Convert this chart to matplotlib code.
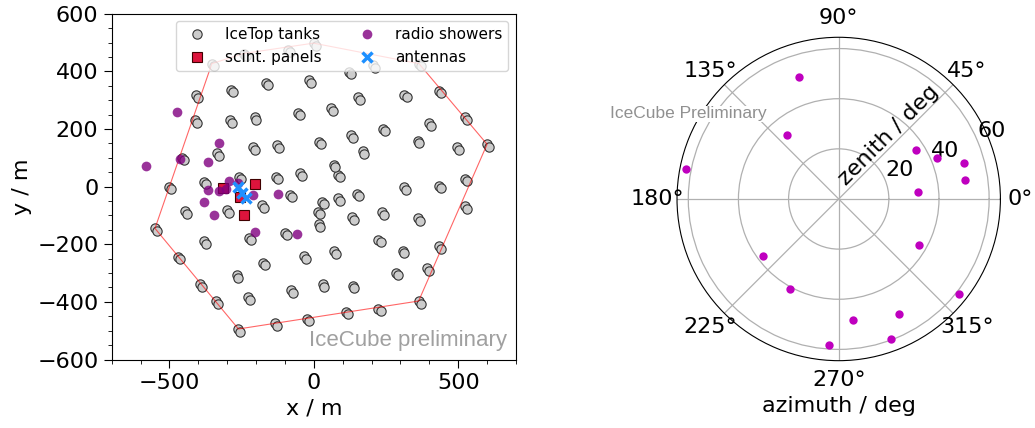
import numpy as np
import matplotlib
matplotlib.use("Agg")
import matplotlib.pyplot as plt
from matplotlib.ticker import MultipleLocator

# -----------------------------
# IceTop tanks (two tanks per station), x / y in m
# -----------------------------
tank_a_x = [-353, -243, -91, -1, 121, 205, 364,
            -407, -287, -167, -18, 153, 314, 435,
            -413, -290, -205, -56, 60, 240, 398, 522,
            -458, -334, -210, -127, 17, 128, 171, 360, 497, 600,
            -503, -381, -259, -131, -47, 69, 84, 314, 433, 525,
            -446, -301, -178, -81, 30, 83, 150, 15, 132, 235, 360, 522,
            -550, -382, -225, -101, 18, 224, 308, 435, -35, 71, -176, -471,
            -266, -394, -227, -338, -79, 32, 135, 283, 393, 363,
            -261, -133, -24, 112, 224]
tank_a_y = [427, 462, 474, 498, 398, 421, 427,
            317, 336, 360, 370, 310, 318, 333,
            230, 230, 241, 257, 272, 201, 220, 240,
            100, 117, 137, 143, 156, 178, 124, 159, 136, 147,
            0, 17, 35, 35, 47, 76, 41, -2, 3, 27,
            -86, -81, -64, -28, -53, -41, -24, -87, -107, -89, -110, -68,
            -145, -190, -177, -160, -130, -184, -223, -206, -241, -224, -264, -243,
            -307, -338, -384, -397, -359, -338, -344, -299, -284, -397,
            -494, -474, -459, -434, -424]
tank_b_x = [-346, -236, -84, 6, 128, 212, 371,
            -400, -280, -160, -11, 159, 321, 441,
            -406, -283, -199, -49, 67, 246, 405, 529,
            -451, -327, -203, -120, 24, 134, 173, 366, 503, 607,
            -496, -374, -252, -124, -40, 73, 91, 320, 440, 532,
            -439, -294, -171, -74, 37, 90, 156, 20, 139, 242, 367, 529,
            -543, -375, -218, -94, 22, 231, 314, 442, -28, 78, -169, -464,
            -262, -387, -220, -331, -72, 36, 140, 290, 400, 370,
            -254, -126, -17, 119, 231]
tank_b_y = [418, 453, 466, 489, 390, 413, 418,
            308, 328, 351, 361, 301, 310, 324,
            221, 221, 232, 248, 264, 192, 212, 231,
            91, 108, 128, 134, 147, 169, 113, 150, 127, 138,
            -9, 8, 26, 26, 38, 67, 32, -11, -6, 18,
            -95, -90, -73, -37, -62, -50, -33, -96, -116, -98, -119, -77,
            -154, -199, -186, -169, -140, -193, -232, -215, -250, -233, -273, -252,
            -317, -347, -393, -406, -368, -348, -352, -308, -293, -406,
            -503, -483, -468, -443, -433]

# array boundary
hull_x = [-353, -243, -1, 364, 600, 363, -261, -550, -353]
hull_y = [427, 462, 498, 427, 147, -397, -494, -145, 427]

# scintillator panels
scint_x = [-313, -203, -257, -243]
scint_y = [-6, 9, -37, -99]

# radio shower cores
radio_x = [-474, -327, -462, -368, -581, -294, -262, -365, -330, -303,
           -212, -123, -380, -345, -203, -58]
radio_y = [258, 153, 95, 87, 71, 19, 11, -12, -16, -8,
           -29, -26, -54, -99, -157, -165]

# antennas
ant_x = [-261, -248, -236]
ant_y = [-1, -22, -41]

# radio showers arrival directions (deg)
azimuth = [107.8, 128.8, 169.0, 32.5, 22.4, 16.1, 8.4, 4.8, 330.0, 321.7,
           297.6, 290.4, 276.6, 266.2, 241.9, 216.9]
zenith = [51.2, 33.0, 62.0, 36.5, 42.5, 52.2, 50.9, 31.6, 36.9, 60.9,
          51.9, 59.4, 48.5, 58.2, 40.9, 37.8]

plt.rcParams['font.size'] = 16

fig = plt.figure(figsize=(10.35, 4.28), dpi=100)

# -----------------------------
# Left: array layout
# -----------------------------
ax = fig.add_axes([0.1079, 0.1600, 0.3906, 0.8079])
ax.plot(tank_a_x, tank_a_y, ls='none', marker='o', ms=6.7, mfc='#cccccc',
        mec='#333333', mew=0.8, zorder=2, label='IceTop tanks')
ax.plot(tank_b_x, tank_b_y, ls='none', marker='o', ms=6.7, mfc='#cccccc',
        mec='#333333', mew=0.8, zorder=2)
ax.plot(hull_x, hull_y, color='red', lw=0.8, alpha=0.6, zorder=3)
ax.plot(scint_x, scint_y, ls='none', marker='s', ms=6.7, mfc='crimson',
        mec='#400000', mew=0.8, zorder=4, label='scint. panels')
ax.plot(radio_x, radio_y, ls='none', marker='o', ms=7, mfc='purple',
        mec='none', alpha=0.8, zorder=5, label='radio showers')
ax.plot(ant_x, ant_y, ls='none', marker='x', ms=7.5, color='dodgerblue',
        mew=2.5, zorder=6, label='antennas')

ax.set_xlim(-700, 700)
ax.set_ylim(-600, 600)
ax.xaxis.set_major_locator(MultipleLocator(500))
ax.xaxis.set_minor_locator(MultipleLocator(100))
ax.yaxis.set_major_locator(MultipleLocator(200))
ax.yaxis.set_minor_locator(MultipleLocator(50))
ax.tick_params(which='major', length=6, labelsize=16)
ax.tick_params(which='minor', length=3)
ax.set_xlabel('x / m', fontsize=16)
ax.set_ylabel('y / m', fontsize=16)
ax.legend(loc='upper right', ncol=2, fontsize=11, numpoints=1)
ax.text(0.978, 0.04, 'IceCube preliminary', transform=ax.transAxes,
        ha='right', va='baseline', fontsize=16, color='#a0a0a0',
        family='Liberation Sans')

# -----------------------------
# Right: arrival directions
# -----------------------------
pax = fig.add_axes([0.6541, 0.1573, 0.3125, 0.7556], projection='polar')
pax.plot(np.radians(azimuth), zenith, ls='none', marker='o', ms=6,
         color='m', mec='none', zorder=4)
pax.set_rmax(64.5)
pax.set_rticks([20, 40, 60])
pax.set_thetagrids(range(0, 360, 45))
pax.grid(True, color='#b0b0b0', lw=0.9)
pax.tick_params(labelsize=16)
pax.set_xlabel('azimuth / deg', fontsize=16)
pax.text(0.655, 0.698, 'zenith / deg', transform=pax.transAxes, rotation=45,
         ha='center', va='center', fontsize=16)
pax.text(-0.207, 0.7495, 'IceCube Preliminary', transform=pax.transAxes,
         ha='left', va='baseline', fontsize=12.5, color='#909090',
         family='Liberation Sans', zorder=10,
         bbox=dict(facecolor='white', edgecolor='none', pad=0.5))

fig.savefig('out.png', dpi=100)
